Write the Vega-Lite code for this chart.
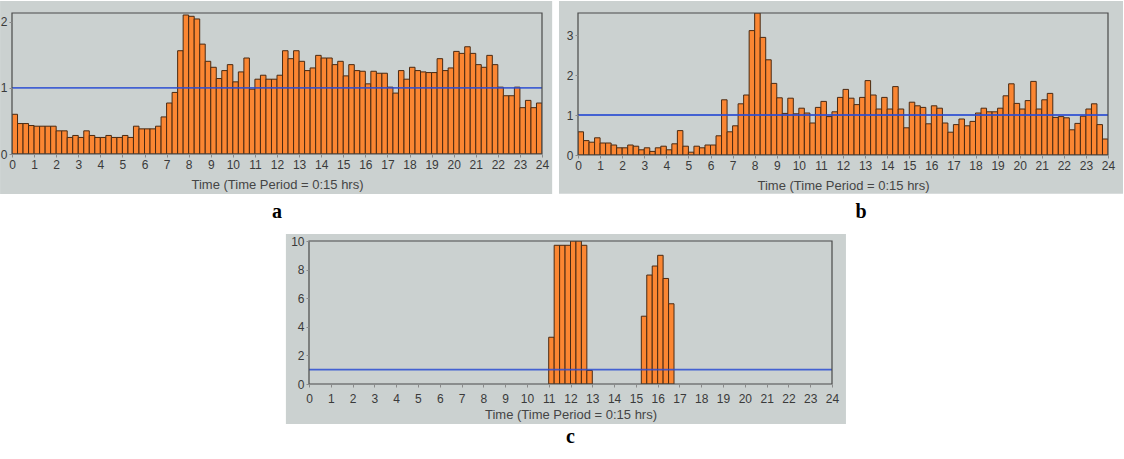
{
  "$schema": "https://vega.github.io/schema/vega-lite/v6.json",
  "padding": 0,
  "background": "#ffffff",
  "spacing": 11,
  "datasets": {
    "a": [
      {"t":0,"e":0.25,"v":0.60},{"t":0.25,"e":0.5,"v":0.46},{"t":0.5,"e":0.75,"v":0.46},{"t":0.75,"e":1,"v":0.43},
      {"t":1,"e":1.25,"v":0.42},{"t":1.25,"e":1.5,"v":0.42},{"t":1.5,"e":1.75,"v":0.42},{"t":1.75,"e":2,"v":0.42},
      {"t":2,"e":2.25,"v":0.35},{"t":2.25,"e":2.5,"v":0.35},{"t":2.5,"e":2.75,"v":0.25},{"t":2.75,"e":3,"v":0.28},
      {"t":3,"e":3.25,"v":0.25},{"t":3.25,"e":3.5,"v":0.35},{"t":3.5,"e":3.75,"v":0.28},{"t":3.75,"e":4,"v":0.25},
      {"t":4,"e":4.25,"v":0.25},{"t":4.25,"e":4.5,"v":0.28},{"t":4.5,"e":4.75,"v":0.25},{"t":4.75,"e":5,"v":0.25},
      {"t":5,"e":5.25,"v":0.28},{"t":5.25,"e":5.5,"v":0.25},{"t":5.5,"e":5.75,"v":0.42},{"t":5.75,"e":6,"v":0.38},
      {"t":6,"e":6.25,"v":0.38},{"t":6.25,"e":6.5,"v":0.38},{"t":6.5,"e":6.75,"v":0.42},{"t":6.75,"e":7,"v":0.56},
      {"t":7,"e":7.25,"v":0.77},{"t":7.25,"e":7.5,"v":0.93},{"t":7.5,"e":7.75,"v":1.56},{"t":7.75,"e":8,"v":2.10},
      {"t":8,"e":8.25,"v":2.08},{"t":8.25,"e":8.5,"v":2.04},{"t":8.5,"e":8.75,"v":1.66},{"t":8.75,"e":9,"v":1.40},
      {"t":9,"e":9.25,"v":1.31},{"t":9.25,"e":9.5,"v":1.14},{"t":9.5,"e":9.75,"v":1.26},{"t":9.75,"e":10,"v":1.35},
      {"t":10,"e":10.25,"v":1.09},{"t":10.25,"e":10.5,"v":1.24},{"t":10.5,"e":10.75,"v":1.45},{"t":10.75,"e":11,"v":0.98},
      {"t":11,"e":11.25,"v":1.13},{"t":11.25,"e":11.5,"v":1.19},{"t":11.5,"e":11.75,"v":1.13},{"t":11.75,"e":12,"v":1.13},
      {"t":12,"e":12.25,"v":1.19},{"t":12.25,"e":12.5,"v":1.56},{"t":12.5,"e":12.75,"v":1.44},{"t":12.75,"e":13,"v":1.56},
      {"t":13,"e":13.25,"v":1.40},{"t":13.25,"e":13.5,"v":1.26},{"t":13.5,"e":13.75,"v":1.30},{"t":13.75,"e":14,"v":1.49},
      {"t":14,"e":14.25,"v":1.45},{"t":14.25,"e":14.5,"v":1.45},{"t":14.5,"e":14.75,"v":1.35},{"t":14.75,"e":15,"v":1.40},
      {"t":15,"e":15.25,"v":1.18},{"t":15.25,"e":15.5,"v":1.35},{"t":15.5,"e":15.75,"v":1.26},{"t":15.75,"e":16,"v":1.25},
      {"t":16,"e":16.25,"v":1.06},{"t":16.25,"e":16.5,"v":1.25},{"t":16.5,"e":16.75,"v":1.22},{"t":16.75,"e":17,"v":1.22},
      {"t":17,"e":17.25,"v":1.01},{"t":17.25,"e":17.5,"v":0.92},{"t":17.5,"e":17.75,"v":1.26},{"t":17.75,"e":18,"v":1.13},
      {"t":18,"e":18.25,"v":1.31},{"t":18.25,"e":18.5,"v":1.26},{"t":18.5,"e":18.75,"v":1.24},{"t":18.75,"e":19,"v":1.23},
      {"t":19,"e":19.25,"v":1.23},{"t":19.25,"e":19.5,"v":1.44},{"t":19.5,"e":19.75,"v":1.26},{"t":19.75,"e":20,"v":1.30},
      {"t":20,"e":20.25,"v":1.55},{"t":20.25,"e":20.5,"v":1.52},{"t":20.5,"e":20.75,"v":1.62},{"t":20.75,"e":21,"v":1.52},
      {"t":21,"e":21.25,"v":1.35},{"t":21.25,"e":21.5,"v":1.31},{"t":21.5,"e":21.75,"v":1.49},{"t":21.75,"e":22,"v":1.35},
      {"t":22,"e":22.25,"v":1.01},{"t":22.25,"e":22.5,"v":0.88},{"t":22.5,"e":22.75,"v":0.88},{"t":22.75,"e":23,"v":1.01},
      {"t":23,"e":23.25,"v":0.70},{"t":23.25,"e":23.5,"v":0.81},{"t":23.5,"e":23.75,"v":0.70},{"t":23.75,"e":24,"v":0.77}
    ],
    "b": [
      {"t":0,"e":0.25,"v":0.58},{"t":0.25,"e":0.5,"v":0.36},{"t":0.5,"e":0.75,"v":0.32},{"t":0.75,"e":1,"v":0.43},
      {"t":1,"e":1.25,"v":0.30},{"t":1.25,"e":1.5,"v":0.30},{"t":1.5,"e":1.75,"v":0.25},{"t":1.75,"e":2,"v":0.18},
      {"t":2,"e":2.25,"v":0.18},{"t":2.25,"e":2.5,"v":0.25},{"t":2.5,"e":2.75,"v":0.22},{"t":2.75,"e":3,"v":0.13},
      {"t":3,"e":3.25,"v":0.18},{"t":3.25,"e":3.5,"v":0.09},{"t":3.5,"e":3.75,"v":0.18},{"t":3.75,"e":4,"v":0.22},
      {"t":4,"e":4.25,"v":0.13},{"t":4.25,"e":4.5,"v":0.28},{"t":4.5,"e":4.75,"v":0.61},{"t":4.75,"e":5,"v":0.22},
      {"t":5,"e":5.25,"v":0.07},{"t":5.25,"e":5.5,"v":0.22},{"t":5.5,"e":5.75,"v":0.18},{"t":5.75,"e":6,"v":0.25},
      {"t":6,"e":6.25,"v":0.25},{"t":6.25,"e":6.5,"v":0.48},{"t":6.5,"e":6.75,"v":1.38},{"t":6.75,"e":7,"v":0.58},
      {"t":7,"e":7.25,"v":0.73},{"t":7.25,"e":7.5,"v":1.28},{"t":7.5,"e":7.75,"v":1.50},{"t":7.75,"e":8,"v":3.11},
      {"t":8,"e":8.25,"v":3.55},{"t":8.25,"e":8.5,"v":2.94},{"t":8.5,"e":8.75,"v":2.38},{"t":8.75,"e":9,"v":1.79},
      {"t":9,"e":9.25,"v":1.43},{"t":9.25,"e":9.5,"v":1.04},{"t":9.5,"e":9.75,"v":1.42},{"t":9.75,"e":10,"v":1.03},
      {"t":10,"e":10.25,"v":1.17},{"t":10.25,"e":10.5,"v":1.05},{"t":10.5,"e":10.75,"v":0.80},{"t":10.75,"e":11,"v":1.19},
      {"t":11,"e":11.25,"v":1.34},{"t":11.25,"e":11.5,"v":0.96},{"t":11.5,"e":11.75,"v":1.08},{"t":11.75,"e":12,"v":1.44},
      {"t":12,"e":12.25,"v":1.64},{"t":12.25,"e":12.5,"v":1.42},{"t":12.5,"e":12.75,"v":1.26},{"t":12.75,"e":13,"v":1.44},
      {"t":13,"e":13.25,"v":1.86},{"t":13.25,"e":13.5,"v":1.50},{"t":13.5,"e":13.75,"v":1.15},{"t":13.75,"e":14,"v":1.44},
      {"t":14,"e":14.25,"v":1.15},{"t":14.25,"e":14.5,"v":1.71},{"t":14.5,"e":14.75,"v":1.15},{"t":14.75,"e":15,"v":0.68},
      {"t":15,"e":15.25,"v":1.32},{"t":15.25,"e":15.5,"v":1.23},{"t":15.5,"e":15.75,"v":1.19},{"t":15.75,"e":16,"v":0.78},
      {"t":16,"e":16.25,"v":1.23},{"t":16.25,"e":16.5,"v":1.17},{"t":16.5,"e":16.75,"v":0.80},{"t":16.75,"e":17,"v":0.57},
      {"t":17,"e":17.25,"v":0.76},{"t":17.25,"e":17.5,"v":0.90},{"t":17.5,"e":17.75,"v":0.73},{"t":17.75,"e":18,"v":0.84},
      {"t":18,"e":18.25,"v":1.05},{"t":18.25,"e":18.5,"v":1.17},{"t":18.5,"e":18.75,"v":1.08},{"t":18.75,"e":19,"v":1.08},
      {"t":19,"e":19.25,"v":1.17},{"t":19.25,"e":19.5,"v":1.48},{"t":19.5,"e":19.75,"v":1.78},{"t":19.75,"e":20,"v":1.29},
      {"t":20,"e":20.25,"v":1.15},{"t":20.25,"e":20.5,"v":1.36},{"t":20.5,"e":20.75,"v":1.84},{"t":20.75,"e":21,"v":1.15},
      {"t":21,"e":21.25,"v":1.38},{"t":21.25,"e":21.5,"v":1.54},{"t":21.5,"e":21.75,"v":0.94},{"t":21.75,"e":22,"v":0.96},
      {"t":22,"e":22.25,"v":0.93},{"t":22.25,"e":22.5,"v":0.63},{"t":22.5,"e":22.75,"v":0.79},{"t":22.75,"e":23,"v":0.97},
      {"t":23,"e":23.25,"v":1.15},{"t":23.25,"e":23.5,"v":1.28},{"t":23.5,"e":23.75,"v":0.76},{"t":23.75,"e":24,"v":0.40}
    ],
    "c": [
      {"t":11,"e":11.25,"v":3.27},{"t":11.25,"e":11.5,"v":9.7},{"t":11.5,"e":11.75,"v":9.7},{"t":11.75,"e":12,"v":9.7},
      {"t":12,"e":12.25,"v":10},{"t":12.25,"e":12.5,"v":10},{"t":12.5,"e":12.75,"v":9.7},{"t":12.75,"e":13,"v":0.95},
      {"t":15.25,"e":15.5,"v":4.74},{"t":15.5,"e":15.75,"v":7.62},{"t":15.75,"e":16,"v":8.25},{"t":16,"e":16.25,"v":9.0},
      {"t":16.25,"e":16.5,"v":7.38},{"t":16.5,"e":16.75,"v":5.61}
    ],
    "one": [{}],
    "none": []
  },
  "vconcat": [
    {
      "hconcat": [
        {
          "width": 530,
          "height": 141,
          "title": {"text": "a", "orient": "bottom", "anchor": "middle", "baseline": "top", "offset": 8},
          "layer": [
            {
              "data": {"name": "one"},
              "mark": {"type": "rect", "color": "#cbd1d0"},
              "encoding": {
                "x": {"datum": -0.54, "type": "quantitative", "scale": {"domain": [0, 24], "nice": false},
                      "axis": {"zindex": 2, "values": [0,1,2,3,4,5,6,7,8,9,10,11,12,13,14,15,16,17,18,19,20,21,22,23,24], "title": "Time (Time Period = 0:15 hrs)"}},
                "x2": {"datum": 24.46},
                "y": {"datum": 2.311, "type": "quantitative", "scale": {"domain": [0, 2.13], "nice": false, "zero": false},
                      "axis": {"zindex": 2, "values": [0, 1, 2], "title": null}},
                "y2": {"datum": -0.604}
              }
            },
            {
              "data": {"name": "a"},
              "mark": {"type": "bar", "fill": "#fb8632", "stroke": "#4a2a12", "strokeWidth": 1, "clip": true},
              "encoding": {
                "x": {"field": "t", "type": "quantitative", "scale": {"domain": [0, 24], "nice": false},
                      "axis": {"zindex": 2, "values": [0,1,2,3,4,5,6,7,8,9,10,11,12,13,14,15,16,17,18,19,20,21,22,23,24], "title": "Time (Time Period = 0:15 hrs)"}},
                "x2": {"field": "e"},
                "y": {"field": "v", "type": "quantitative", "scale": {"domain": [0, 2.13], "nice": false, "zero": false},
                      "axis": {"zindex": 2, "values": [0, 1, 2], "title": null}},
                "y2": {"datum": 0}
              }
            },
            {
              "data": {"name": "one"},
              "mark": {"type": "rule", "color": "#2c4ed2", "strokeWidth": 1.8, "opacity": 0.85},
              "encoding": {
                "y": {"datum": 1, "type": "quantitative", "scale": {"domain": [0, 2.13], "nice": false, "zero": false},
                      "axis": {"zindex": 2, "values": [0, 1, 2], "title": null}}
              }
            },
            {
              "data": {"name": "one"},
              "mark": {"type": "rect", "filled": false, "stroke": "#4a4a4a", "strokeWidth": 1.2},
              "encoding": {
                "x": {"datum": 0, "type": "quantitative", "scale": {"domain": [0, 24], "nice": false},
                      "axis": {"zindex": 2, "values": [0,1,2,3,4,5,6,7,8,9,10,11,12,13,14,15,16,17,18,19,20,21,22,23,24], "title": "Time (Time Period = 0:15 hrs)"}},
                "x2": {"datum": 24},
                "y": {"datum": 0, "type": "quantitative", "scale": {"domain": [0, 2.13], "nice": false, "zero": false},
                      "axis": {"zindex": 2, "values": [0, 1, 2], "title": null}},
                "y2": {"datum": 2.13}
              }
            }
          ]
        },
        {
          "width": 530,
          "height": 142,
          "title": {"text": "b", "orient": "bottom", "anchor": "middle", "baseline": "top", "offset": 8, "dx": 18},
          "layer": [
            {
              "data": {"name": "one"},
              "mark": {"type": "rect", "color": "#cbd1d0"},
              "encoding": {
                "x": {"datum": -0.86, "type": "quantitative", "scale": {"domain": [0, 24], "nice": false},
                      "axis": {"zindex": 2, "values": [0,1,2,3,4,5,6,7,8,9,10,11,12,13,14,15,16,17,18,19,20,21,22,23,24], "title": "Time (Time Period = 0:15 hrs)"}},
                "x2": {"datum": 24.68},
                "y": {"datum": 3.85, "type": "quantitative", "scale": {"domain": [0, 3.55], "nice": false, "zero": false},
                      "axis": {"zindex": 2, "values": [0, 1, 2, 3], "title": null}},
                "y2": {"datum": -0.97}
              }
            },
            {
              "data": {"name": "b"},
              "mark": {"type": "bar", "fill": "#fb8632", "stroke": "#4a2a12", "strokeWidth": 1, "clip": true},
              "encoding": {
                "x": {"field": "t", "type": "quantitative", "scale": {"domain": [0, 24], "nice": false},
                      "axis": {"zindex": 2, "values": [0,1,2,3,4,5,6,7,8,9,10,11,12,13,14,15,16,17,18,19,20,21,22,23,24], "title": "Time (Time Period = 0:15 hrs)"}},
                "x2": {"field": "e"},
                "y": {"field": "v", "type": "quantitative", "scale": {"domain": [0, 3.55], "nice": false, "zero": false},
                      "axis": {"zindex": 2, "values": [0, 1, 2, 3], "title": null}},
                "y2": {"datum": 0}
              }
            },
            {
              "data": {"name": "one"},
              "mark": {"type": "rule", "color": "#2c4ed2", "strokeWidth": 1.8, "opacity": 0.85},
              "encoding": {
                "y": {"datum": 1, "type": "quantitative", "scale": {"domain": [0, 3.55], "nice": false, "zero": false},
                      "axis": {"zindex": 2, "values": [0, 1, 2, 3], "title": null}}
              }
            },
            {
              "data": {"name": "one"},
              "mark": {"type": "rect", "filled": false, "stroke": "#4a4a4a", "strokeWidth": 1.2},
              "encoding": {
                "x": {"datum": 0, "type": "quantitative", "scale": {"domain": [0, 24], "nice": false},
                      "axis": {"zindex": 2, "values": [0,1,2,3,4,5,6,7,8,9,10,11,12,13,14,15,16,17,18,19,20,21,22,23,24], "title": "Time (Time Period = 0:15 hrs)"}},
                "x2": {"datum": 24},
                "y": {"datum": 0, "type": "quantitative", "scale": {"domain": [0, 3.55], "nice": false, "zero": false},
                      "axis": {"zindex": 2, "values": [0, 1, 2, 3], "title": null}},
                "y2": {"datum": 3.55}
              }
            }
          ]
        }
      ],
      "spacing": 6
    },
    {
      "hconcat": [
        {
          "width": 267,
          "height": 1,
          "data": {"name": "none"},
          "mark": "point",
          "encoding": {}
        },
        {
          "width": 523,
          "height": 143,
          "title": {"text": "c", "orient": "bottom", "anchor": "middle", "baseline": "top", "offset": 3},
          "layer": [
            {
              "data": {"name": "one"},
              "mark": {"type": "rect", "color": "#cbd1d0"},
              "encoding": {
                "x": {"datum": -1.06, "type": "quantitative", "scale": {"domain": [0, 24], "nice": false},
                      "axis": {"zindex": 2, "labelPadding": 6, "titlePadding": 4, "values": [0,1,2,3,4,5,6,7,8,9,10,11,12,13,14,15,16,17,18,19,20,21,22,23,24], "title": "Time (Time Period = 0:15 hrs)"}},
                "x2": {"datum": 24.64},
                "y": {"datum": 10.49, "type": "quantitative", "scale": {"domain": [0, 10], "nice": false, "zero": false},
                      "axis": {"zindex": 2, "values": [0, 2, 4, 6, 8, 10], "title": null}},
                "y2": {"datum": -2.8}
              }
            },
            {
              "data": {"name": "c"},
              "mark": {"type": "bar", "fill": "#fb8632", "stroke": "#4a2a12", "strokeWidth": 1, "clip": true},
              "encoding": {
                "x": {"field": "t", "type": "quantitative", "scale": {"domain": [0, 24], "nice": false},
                      "axis": {"zindex": 2, "labelPadding": 6, "titlePadding": 4, "values": [0,1,2,3,4,5,6,7,8,9,10,11,12,13,14,15,16,17,18,19,20,21,22,23,24], "title": "Time (Time Period = 0:15 hrs)"}},
                "x2": {"field": "e"},
                "y": {"field": "v", "type": "quantitative", "scale": {"domain": [0, 10], "nice": false, "zero": false},
                      "axis": {"zindex": 2, "values": [0, 2, 4, 6, 8, 10], "title": null}},
                "y2": {"datum": 0}
              }
            },
            {
              "data": {"name": "one"},
              "mark": {"type": "rule", "color": "#2c4ed2", "strokeWidth": 1.8, "opacity": 0.85},
              "encoding": {
                "y": {"datum": 1, "type": "quantitative", "scale": {"domain": [0, 10], "nice": false, "zero": false},
                      "axis": {"zindex": 2, "values": [0, 2, 4, 6, 8, 10], "title": null}}
              }
            },
            {
              "data": {"name": "one"},
              "mark": {"type": "rect", "filled": false, "stroke": "#4a4a4a", "strokeWidth": 1.2},
              "encoding": {
                "x": {"datum": 0, "type": "quantitative", "scale": {"domain": [0, 24], "nice": false},
                      "axis": {"zindex": 2, "labelPadding": 6, "titlePadding": 4, "values": [0,1,2,3,4,5,6,7,8,9,10,11,12,13,14,15,16,17,18,19,20,21,22,23,24], "title": "Time (Time Period = 0:15 hrs)"}},
                "x2": {"datum": 24},
                "y": {"datum": 0, "type": "quantitative", "scale": {"domain": [0, 10], "nice": false, "zero": false},
                      "axis": {"zindex": 2, "values": [0, 2, 4, 6, 8, 10], "title": null}},
                "y2": {"datum": 10}
              }
            }
          ]
        }
      ],
      "spacing": 6
    }
  ],
  "config": {
    "view": {"stroke": null},
    "axis": {
      "labelFont": "Liberation Sans",
      "titleFont": "Liberation Sans",
      "labelFontSize": 12,
      "titleFontSize": 13,
      "titleFontWeight": "normal",
      "labelColor": "#3a3a3a",
      "titleColor": "#454545",
      "grid": false,
      "domain": false,
      "tickColor": "#8a8a8a",
      "tickSize": 3,
      "labelPadding": 2,
      "titlePadding": 8,
      "labelFlush": false,
      "labelOverlap": false
    },
    "title": {
      "font": "Liberation Serif",
      "fontSize": 20,
      "fontWeight": "bold",
      "color": "#000000"
    }
  }
}
